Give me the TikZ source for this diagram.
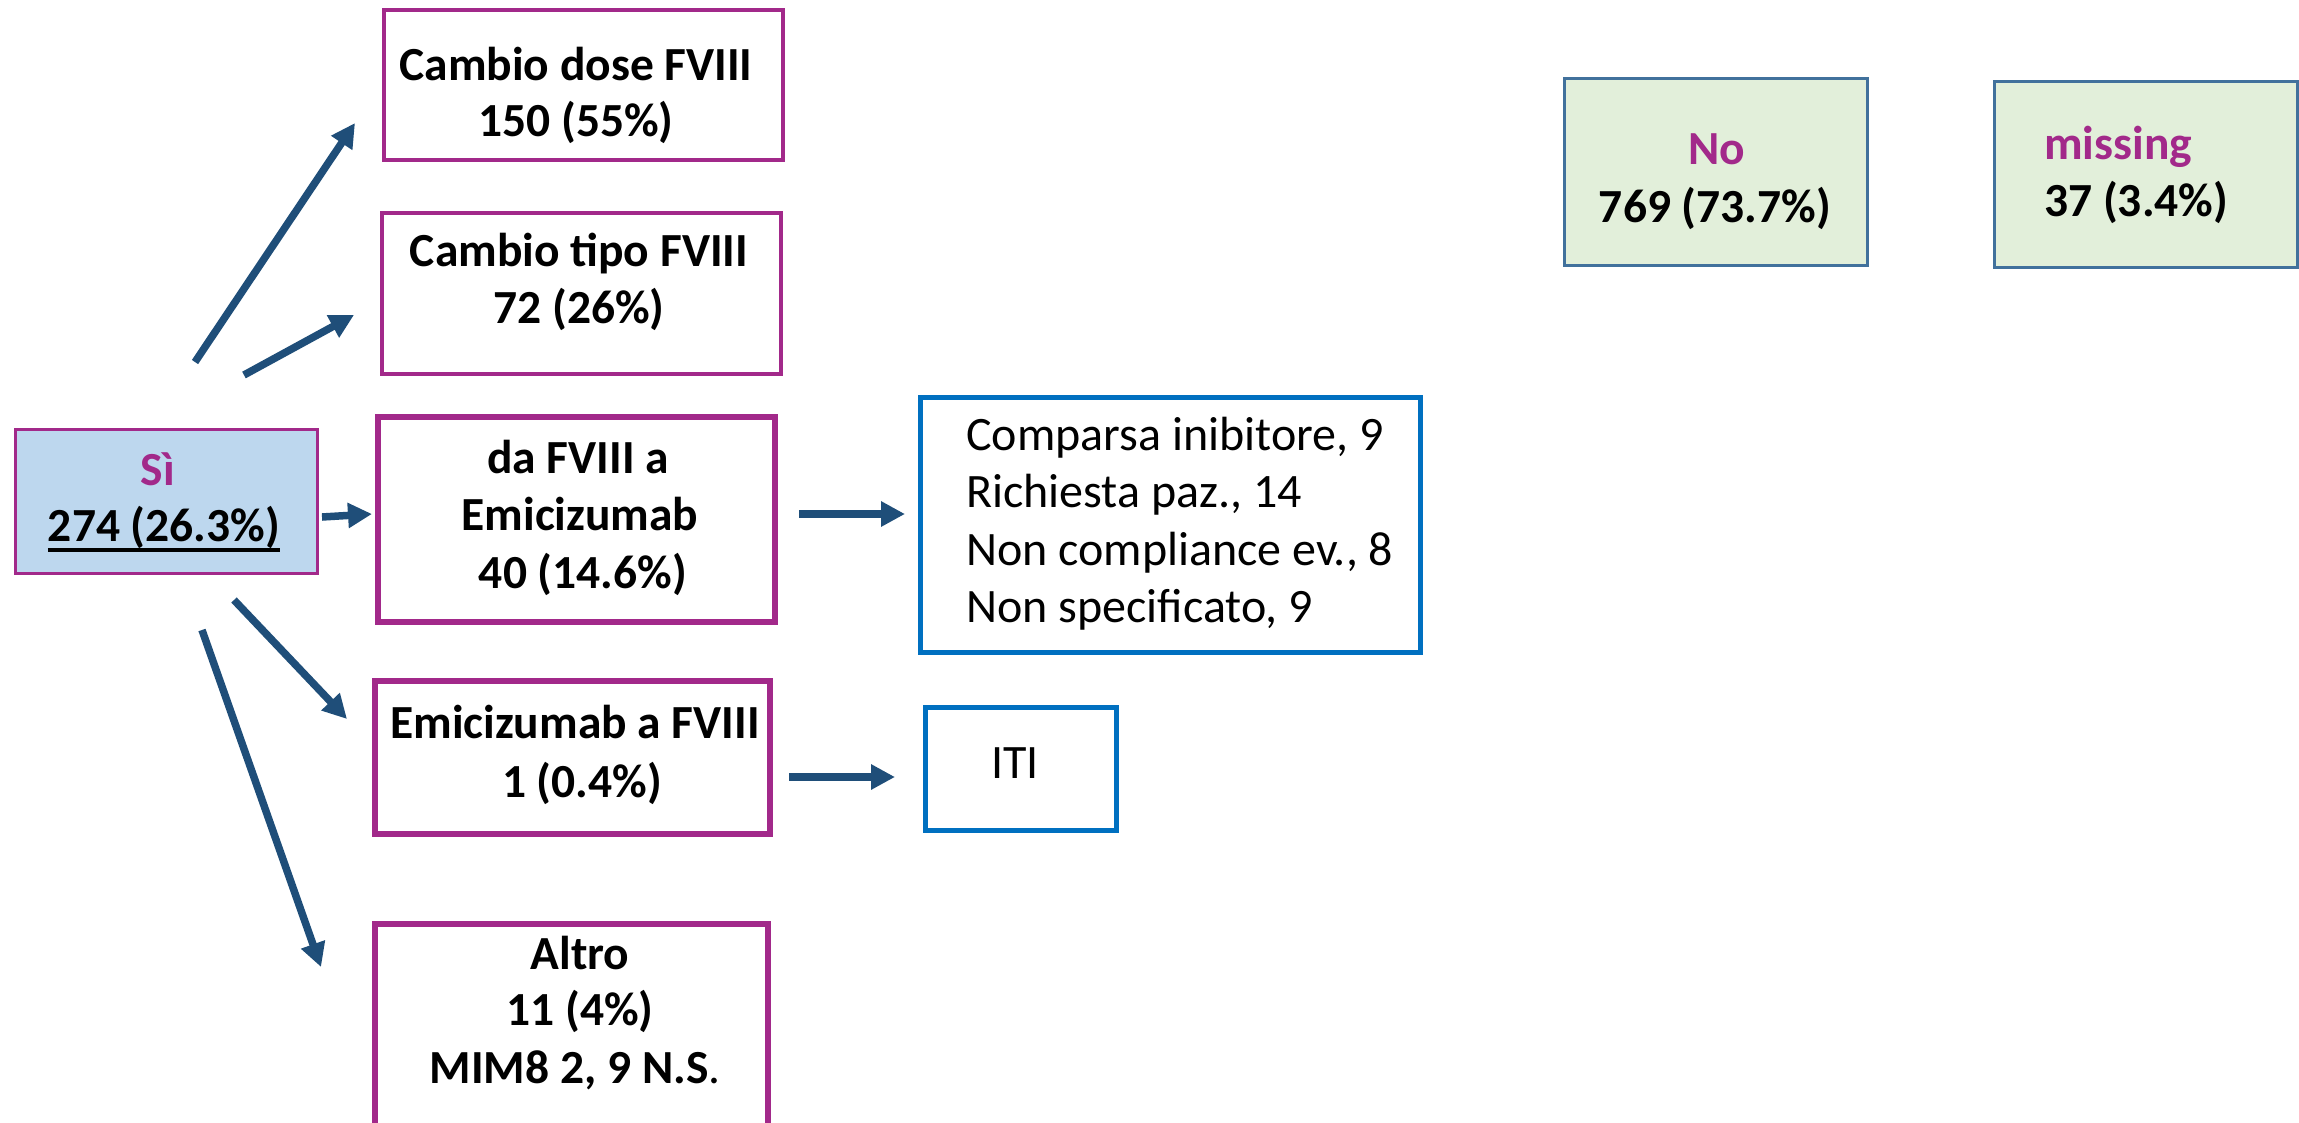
\documentclass[tikz,border=0pt]{standalone}
\usepackage{fontspec}
\setmainfont{Carlito}
\usetikzlibrary{arrows.meta}
\definecolor{purp}{HTML}{A2298A}
\definecolor{arr}{HTML}{1F4E79}
\definecolor{bblue}{HTML}{0070C0}
\definecolor{sifill}{HTML}{BDD7EE}
\definecolor{gfill}{HTML}{E2EFDA}
\definecolor{gedge}{HTML}{41719C}
\newcommand\myul[1]{\setbox0\hbox{#1}\rlap{\rule[-10.5pt]{\wd0}{3.5pt}}\box0}
\begin{document}
\begin{tikzpicture}[x=1pt,y=-1pt,
  box/.style={draw, inner sep=0pt, outer sep=0pt},
  pbox/.style={box, draw=purp, line width=4pt},
  pboxthick/.style={box, draw=purp, line width=6pt},
  bbox/.style={box, draw=bblue, line width=5pt},
  gbox/.style={box, draw=gedge, fill=gfill, line width=3pt},
  lbl/.style={anchor=base, inner sep=0pt, font=\fontsize{47.5}{57}\selectfont\bfseries},
  lblw/.style={anchor=base west, inner sep=0pt, font=\fontsize{47.5}{57}\selectfont\bfseries},
  lblr/.style={anchor=base west, inner sep=0pt, font=\fontsize{48}{57}\selectfont},
  arrow/.style={draw=arr, line width=7.5pt, -{Triangle[length=24pt,width=24pt]}}
]
\useasboundingbox (0,0) rectangle (2299,1122);
\fill[white] (0,0) rectangle (2299,1122);
\clip (0,0) rectangle (2299,1122);

% boxes
\node[box, draw=purp, fill=sifill, line width=3pt, minimum width=302pt, minimum height=144pt] (si) at (166.5,501.5) {};
\node[pbox, minimum width=399pt, minimum height=150pt] (dose) at (583.5,85) {};
\node[pbox, minimum width=399pt, minimum height=161pt] (tipo) at (581.5,293.5) {};
\node[pboxthick, minimum width=397pt, minimum height=205pt] (da) at (576.5,519.5) {};
\node[pboxthick, minimum width=395pt, minimum height=153pt] (emi) at (572.5,757.5) {};
\node[pboxthick, minimum width=393pt, minimum height=236pt] (altro) at (571.5,1042) {};
\node[bbox, minimum width=500pt, minimum height=255pt] (comp) at (1170.5,525) {};
\node[bbox, minimum width=191pt, minimum height=123pt] (iti) at (1021,769) {};
\node[gbox, minimum width=303pt, minimum height=187pt] (no) at (1716,172) {};
\node[gbox, minimum width=303pt, minimum height=186pt] (miss) at (2146,174.5) {};

% texts
\node[lbl] (t1a) at (576,80) {Cambio dose FVIII};
\node[lbl] (t1b) at (576,136) {150 (55\%)};
\node[lbl] (t2a) at (579,266) {Cambio tipo FVIII};
\node[lbl] (t2b) at (579,323) {72 (26\%)};
\node[lbl, text=purp] (s1) at (158,485) {Sì};
\node[lbl] (s2) at (164,541) {\myul{274 (26.3\%)}};
\node[lbl] (t3a) at (578,473) {da FVIII a};
\node[lbl] (t3b) at (580,530) {Emicizumab};
\node[lbl] (t3c) at (583,588) {40 (14.6\%)};
\node[lbl] (t4a) at (575,738) {Emicizumab a FVIII};
\node[lbl] (t4b) at (582,797) {1 (0.4\%)};
\node[lbl] (t5a) at (580,969) {Altro};
\node[lbl] (t5b) at (580,1025) {11 (4\%)};
\node[lbl] (t5c) at (575,1083) {MIM8 2, 9 N.S\textmd{.}};
\node[lblr] (c1) at (966,450) {Comparsa inibitore, 9};
\node[lblr] (c2) at (966,507) {Richiesta paz., 14};
\node[lblr] (c3) at (966,565) {Non compliance ev., 8};
\node[lblr] (c4) at (966,622) {Non specificato, 9};
\node[lblr, anchor=base] (itit) at (1015,778) {ITI};
\node[lbl, text=purp] (n1) at (1717,164) {No};
\node[lbl] (n2) at (1715,222) {769 (73.7\%)};
\node[lblw, text=purp] (m1) at (2044,159) {missing};
\node[lblw] (m2) at (2044,216) {37 (3.4\%)};

% arrow end points
\coordinate (a1s) at (195,362); \coordinate (a1e) at (355,123);
\coordinate (a2s) at (244,375); \coordinate (a2e) at (354,315);
\coordinate (a3s) at (322,517); \coordinate (a3e) at (372,514);
\coordinate (a4s) at (234,600); \coordinate (a4e) at (347,719);
\coordinate (a5s) at (202,630); \coordinate (a5e) at (321,967);
\coordinate (a6s) at (799,514); \coordinate (a6e) at (905,514);
\coordinate (a7s) at (789,777); \coordinate (a7e) at (895,777);

\draw[arrow] (a1s) -- (a1e);
\draw[arrow] (a2s) -- (a2e);
\draw[arrow] (a3s) -- (a3e);
\draw[arrow] (a4s) -- (a4e);
\draw[arrow] (a5s) -- (a5e);
\draw[arrow] (a6s) -- (a6e);
\draw[arrow] (a7s) -- (a7e);
\end{tikzpicture}
\end{document}
